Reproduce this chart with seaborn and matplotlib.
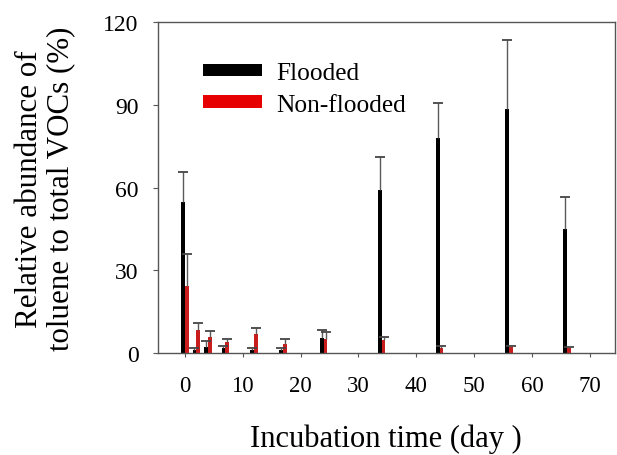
import numpy as np
import pandas as pd
import matplotlib
matplotlib.use("Agg")
import matplotlib.pyplot as plt
from matplotlib.patches import Patch
import seaborn as sns

# data
days = [0, 2, 4, 7, 12, 17, 24, 34, 44, 56, 66]
flooded = [55.0, 1.0, 2.3, 1.9, 1.1, 1.2, 5.5, 59.0, 78.1, 88.5, 45.1]
flooded_err = [10.8, 0.7, 2.2, 0.6, 0.6, 0.7, 2.9, 12.2, 12.6, 25.2, 11.7]
nonflooded = [24.2, 8.4, 5.7, 3.9, 6.9, 3.2, 5.1, 4.8, 1.8, 2.1, 1.7]
nonflooded_err = [11.8, 2.4, 2.2, 1.1, 2.1, 1.8, 2.4, 1.1, 0.9, 0.4, 0.4]

groups = ["Flooded", "Non-flooded"]
colors = ["#000000", "#e60000"]

df = pd.DataFrame({
    "day": days * 2,
    "value": flooded + nonflooded,
    "group": [groups[0]] * len(days) + [groups[1]] * len(days),
})

sns.set_style("ticks")
plt.rcParams["font.family"] = ["Liberation Serif", "DejaVu Serif"]
plt.rcParams["text.color"] = "black"
plt.rcParams["axes.labelcolor"] = "black"
plt.rcParams["xtick.labelcolor"] = "black"
plt.rcParams["ytick.labelcolor"] = "black"

fig = plt.figure(figsize=(6.17, 4.56), dpi=100)
ax = fig.add_axes([0.2553, 0.2237, 0.7415, 0.7248])

sns.barplot(data=df, x="day", y="value", hue="group", hue_order=groups,
            palette=colors, native_scale=True, width=0.65, errorbar=None,
            linewidth=0, legend=False, ax=ax)

# upper error bars only (no cap at the bar top)
bw = 0.65
offs = [-bw / 2, bw / 2]
for vals, errs, off in zip([flooded, nonflooded], [flooded_err, nonflooded_err], offs):
    x = np.array(days) + off
    vals = np.array(vals)
    errs = np.array(errs)
    ax.errorbar(x, vals, yerr=[np.zeros(len(errs)), errs], fmt="none",
                ecolor="#5a5a5a", elinewidth=1, capsize=0)
    ax.plot(x, vals + errs, ls="none", marker="_", ms=7, mew=1.3, color="#444444")

ax.set_xlim(-4.7, 74.3)
ax.set_ylim(0, 120)
ax.set_xticks(range(0, 80, 10))
ax.set_yticks(range(0, 121, 30))
ax.tick_params(axis="x", labelsize=16.5, length=3, pad=13, color="#555555",
               labelcolor="black")
ax.tick_params(axis="y", labelsize=17, length=3.5, pad=10, color="#555555",
               labelcolor="black")
for s in ax.spines.values():
    s.set_color("#555555")
    s.set_linewidth(1)

ax.set_xlabel("Incubation time (day )", fontsize=22, labelpad=20, color="black")
ax.set_ylabel("Relative abundance of\ntoluene to total VOCs (%)", fontsize=22.3,
              labelpad=20, linespacing=1.1, color="black")

handles = [Patch(facecolor=c, edgecolor="none") for c in colors]
leg = ax.legend(handles, groups, loc="upper left", bbox_to_anchor=(0.1, 0.88),
                frameon=False, fontsize=18.3, handlelength=2.32, handleheight=0.39,
                handletextpad=0.57, labelspacing=0.38, borderpad=0, borderaxespad=0)
for t in leg.get_texts():
    t.set_color("black")

fig.savefig("out.png", dpi=100)
